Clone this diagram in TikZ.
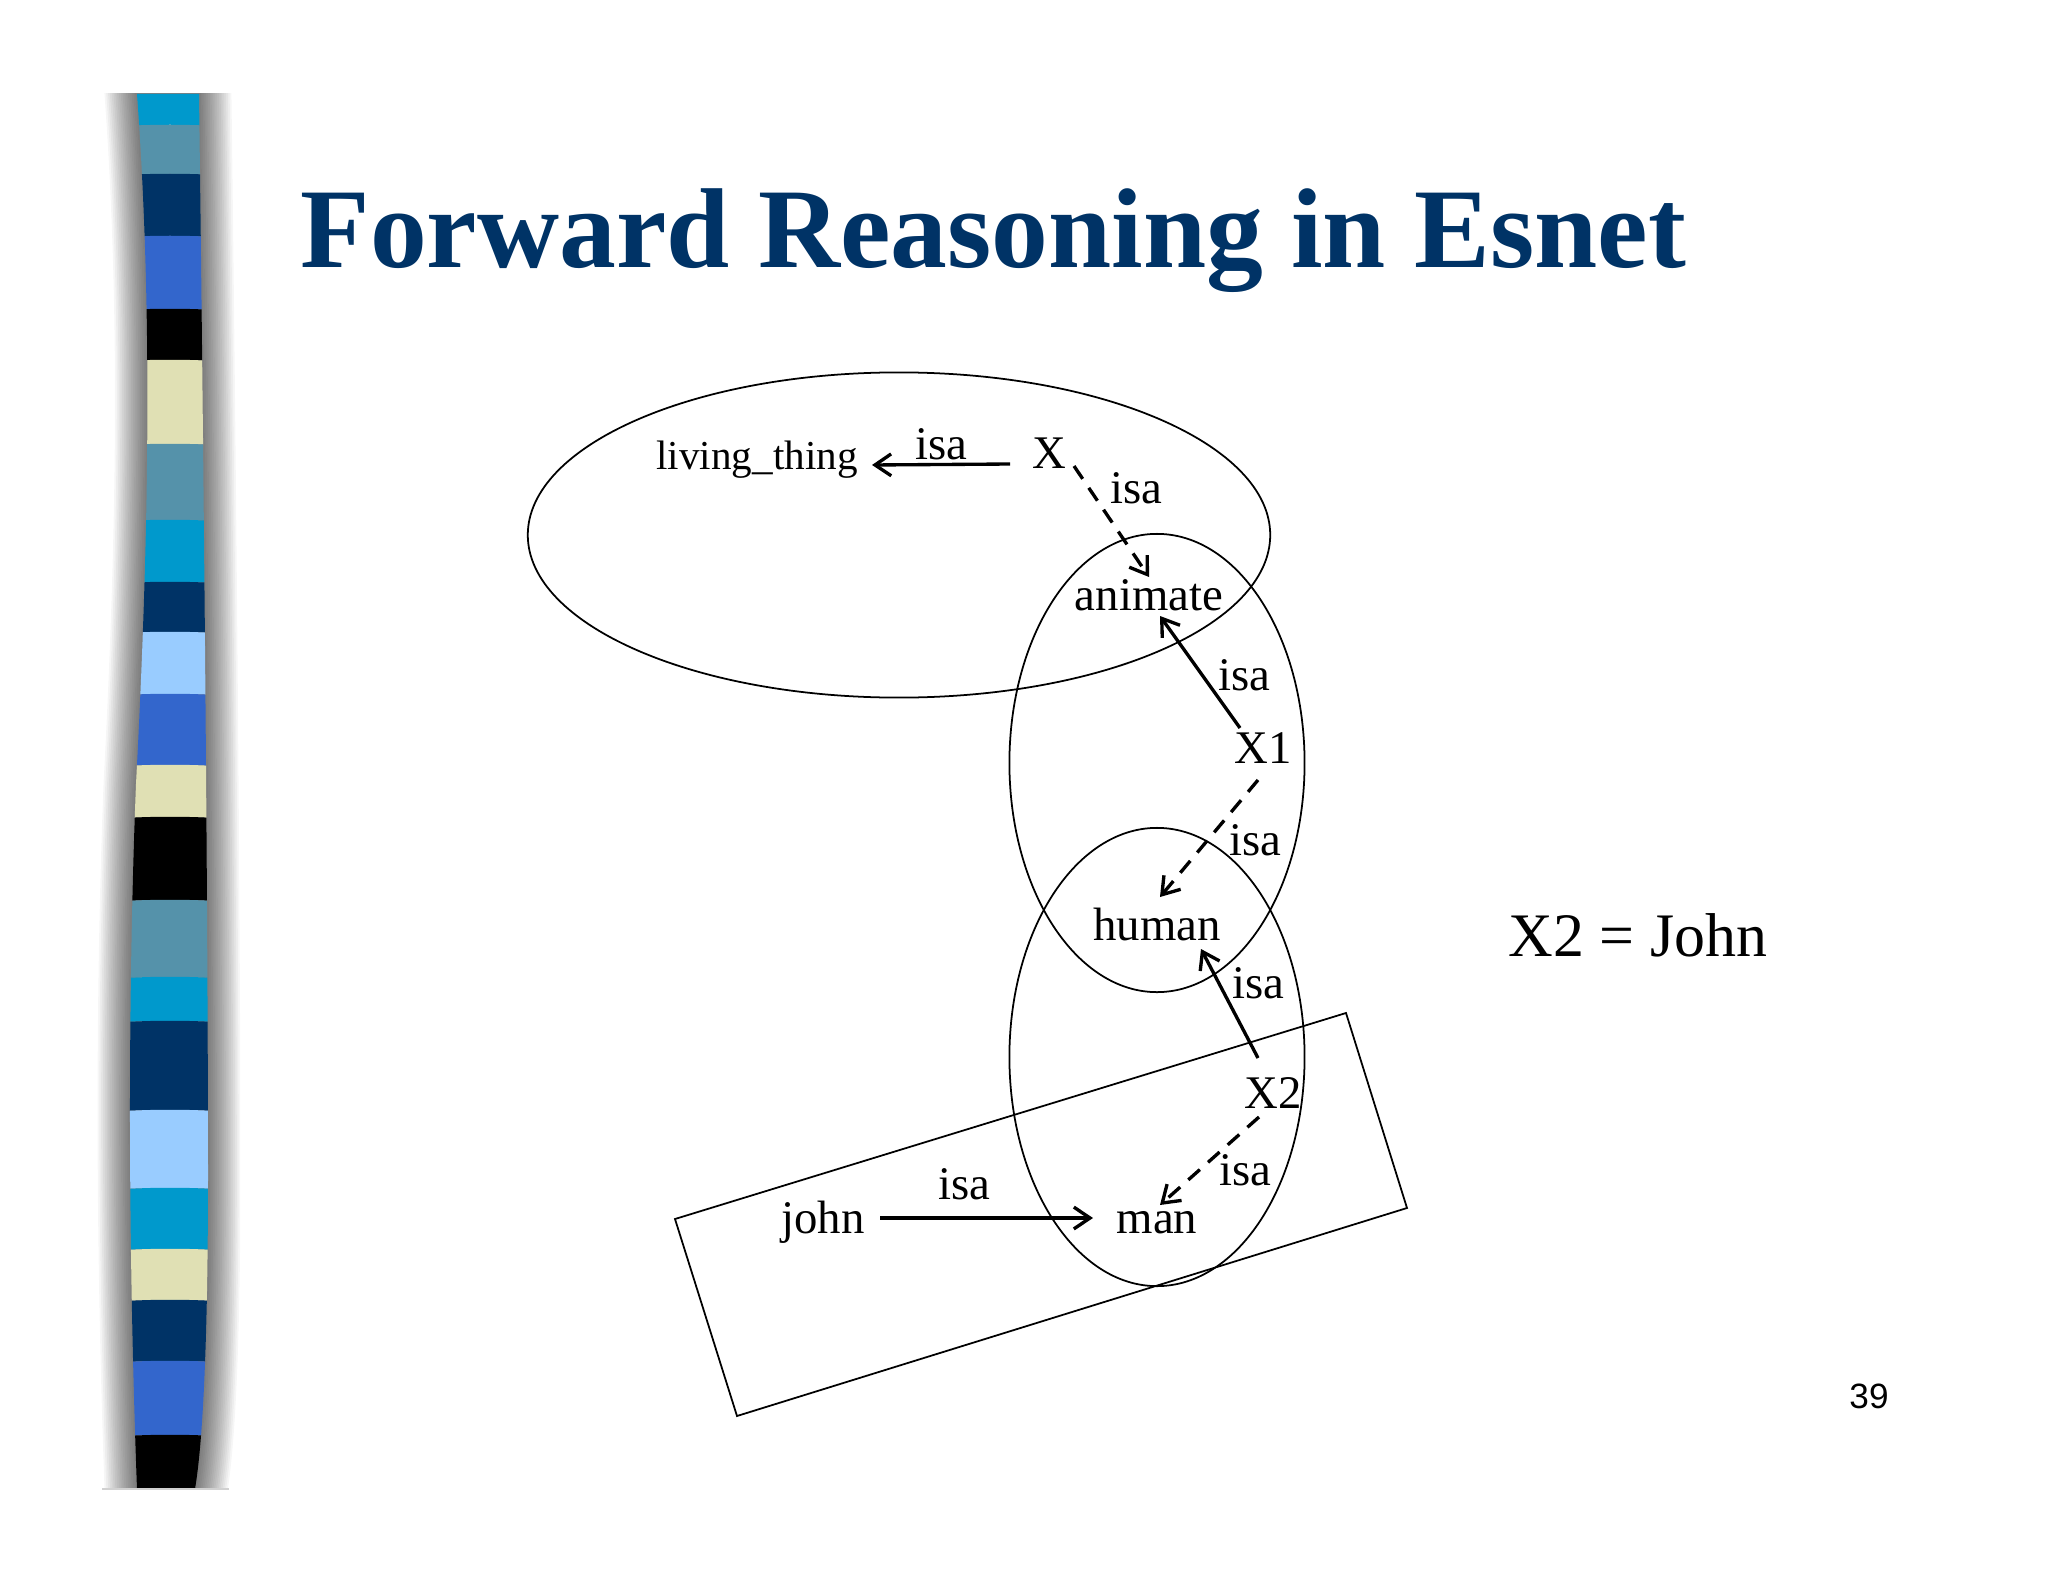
\documentclass[tikz,border=0pt]{standalone}
\usepackage{fontspec}
\setmainfont{Liberation Serif}
\newfontfamily\pagefont{Liberation Sans}
\usetikzlibrary{arrows.meta,shapes.geometric}
\definecolor{titleblue}{HTML}{003366}
\definecolor{sCyan}{HTML}{0099CC}
\definecolor{sTeal}{HTML}{5592AA}
\definecolor{sNavy}{HTML}{003366}
\definecolor{sRoyal}{HTML}{3366CC}
\definecolor{sBlack}{HTML}{000000}
\definecolor{sBeige}{HTML}{E0E0B4}
\definecolor{sLight}{HTML}{99CCFF}
\def\barpath{(137,94) .. controls (152,300) and (150,520) .. (136,784) .. controls (126,1040) and (130,1300) .. (137,1489) -- (195,1489) .. controls (205,1430) and (208,1300) .. (208,1175) .. controls (208,900) and (203,400) .. (199,94) -- cycle}
\begin{document}
\begin{tikzpicture}[x=0.01cm,y=-0.01cm,
  lbl/.style={font=\fontsize{13.3pt}{16pt}\selectfont, inner sep=0pt, anchor=base},
  region/.style={draw, ellipse, line width=0.5pt, inner sep=0pt},
  arr/.style={line width=0.95pt, -{Straight Barb[length=4.6pt,width=6.2pt]}},
  darr/.style={arr, dash pattern=on 4.4pt off 3.1pt},
]
\useasboundingbox (0,0) rectangle (2048,1582);
\fill[white] (0,0) rectangle (2048,1582);

% --- decorative stripe bar with soft shadow ---
\begin{scope}
  \clip (95,94) rectangle (240,1489);
  \foreach \i in {1,...,18}
    \draw[black, opacity=0.037, line width={\i*3.6*0.1mm}] \barpath;
\end{scope}
\begin{scope}
  \clip \barpath;
  \foreach \ya/\yb/\c in {94/127/sCyan, 127/176/sTeal, 176/238/sNavy, 238/311/sRoyal,
      311/362/sBlack, 362/446/sBeige, 446/522/sTeal, 522/584/sCyan, 584/634/sNavy,
      634/696/sLight, 696/767/sRoyal, 767/819/sBeige, 819/902/sBlack, 902/979/sTeal,
      979/1023/sCyan, 1023/1112/sNavy, 1112/1190/sLight, 1190/1251/sCyan,
      1251/1302/sBeige, 1302/1363/sNavy, 1363/1437/sRoyal, 1437/1495/sBlack}
    \fill[\c] (110,\ya) .. controls (150,\ya-3) and (190,\ya-3) .. (230,\ya)
      -- (230,\yb) .. controls (190,\yb-3) and (150,\yb-3) .. (110,\yb) -- cycle;
\end{scope}
\draw[black!18, line width=0.4pt] (102,1489) -- (229,1489);

% --- title ---
\node[anchor=base west, inner sep=0pt, text=titleblue,
      font=\fontsize{32.3pt}{38pt}\selectfont\bfseries] (title) at (300,268)
      {Forward Reasoning in Esnet};

% --- regions ---
\node[region, minimum width=7.42cm, minimum height=3.25cm] (e1) at (899,535) {};
\node[region, minimum width=2.95cm, minimum height=4.58cm] (e2) at (1157,763) {};
\node[region, minimum width=2.95cm, minimum height=4.58cm] (e3) at (1157,1057) {};
\draw[line width=0.5pt] (675,1219) -- (1346,1013) -- (1407,1208) -- (737,1416) -- cycle;

% --- concept nodes ---
\node[lbl, font=\fontsize{11.7pt}{14pt}\selectfont] (lt) at (757,469) {living\_thing};
\node[lbl] (X)   at (1049,468) {X};
\node[lbl] (an)  at (1149,610) {animate};
\node[lbl] (X1)  at (1263,763) {X1};
\node[lbl] (hu)  at (1157,940) {human};
\node[lbl] (X2)  at (1273,1108) {X2};
\node[lbl] (man) at (1157,1233) {man};
\node[lbl] (jo)  at (823,1233) {john};

% --- edge labels ---
\node[lbl] (isa1) at (941,459)  {isa};
\node[lbl] (isa2) at (1136,503) {isa};
\node[lbl] (isa3) at (1244,690) {isa};
\node[lbl] (isa4) at (1255,855) {isa};
\node[lbl] (isa5) at (1258,998) {isa};
\node[lbl] (isa6) at (1245,1185) {isa};
\node[lbl] (isa7) at (964,1199) {isa};

% --- connectors ---
\draw[arr]  ([shift={(-39,-4)}]X.base)   -- ([shift={(115,-4)}]lt.base);
\draw[darr] ([shift={(25,-2)}]X.base)    -- ([shift={(0,-33)}]an.base);
\draw[arr]  ([shift={(-23,-35)}]X1.base) -- ([shift={(11,6)}]an.base);
\draw[darr] ([shift={(-5,17)}]X1.base)   -- ([shift={(3,-43)}]hu.base);
\draw[arr]  ([shift={(-15,-50)}]X2.base) -- ([shift={(44,9)}]hu.base);
\draw[darr] ([shift={(-14,9)}]X2.base)   -- ([shift={(3,-28)}]man.base);
\draw[arr]  ([shift={(57,-15)}]jo.base)  -- ([shift={(-64,-15)}]man.base);

% --- side note and page number ---
\node[anchor=base west, inner sep=0pt, font=\fontsize{17.6pt}{21pt}\selectfont] (eq) at (1508,956) {X2 = John};
\node[anchor=base, inner sep=0pt, font=\pagefont\fontsize{10pt}{12pt}\selectfont] (pg) at (1869,1408) {39};
\end{tikzpicture}
\end{document}
